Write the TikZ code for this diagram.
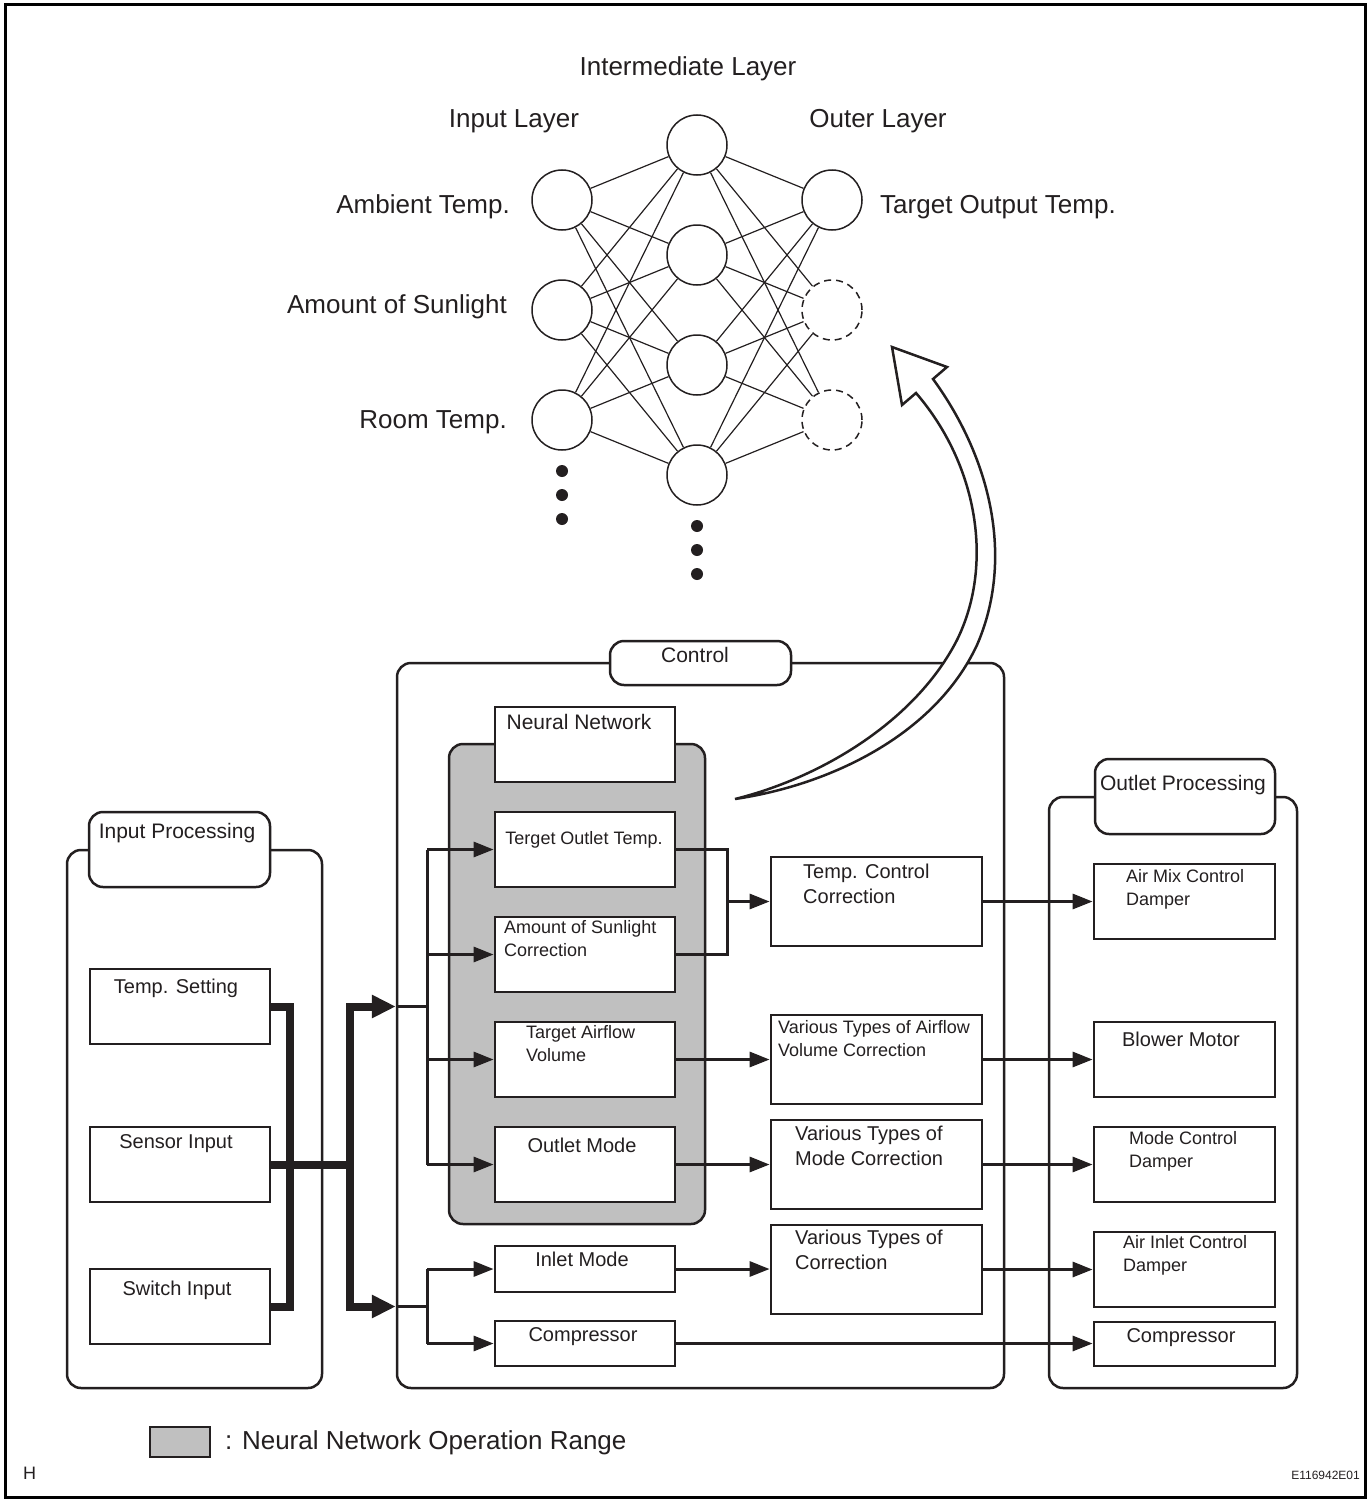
\documentclass[tikz,border=0pt]{standalone}
\usepackage{fontspec}
\setmainfont{Liberation Sans}
\usetikzlibrary{arrows.meta,calc}
\definecolor{ink}{RGB}{35,31,32}
\definecolor{nngray}{RGB}{192,192,192}
\newcommand{\fsA}{\fontsize{26}{31}\selectfont}
\newcommand{\fsB}{\fontsize{21}{25}\selectfont}
\newcommand{\fsC}{\fontsize{20}{25}\selectfont}
\newcommand{\fsD}{\fontsize{18}{23}\selectfont}
\newcommand{\fsE}{\fontsize{12}{14}\selectfont}
\begin{document}
\begin{tikzpicture}[x=1pt,y=-1pt,
  neuron/.style={circle,draw=ink,line width=1.5pt,fill=white,minimum size=60pt,inner sep=0pt},
  ghost/.style={neuron,dash pattern=on 7pt off 5pt},
  syn/.style={draw=ink,line width=1.2pt},
  dotmark/.style={circle,fill=ink,inner sep=0pt,minimum size=12pt},
  container/.style={draw=ink,line width=2.5pt,rounded corners=14pt,inner sep=0pt},
  tag/.style={draw=ink,line width=2.5pt,rounded corners=14pt,fill=white,inner sep=0pt},
  box/.style={draw=ink,line width=2.8pt,fill=white,inner sep=0pt},
  txt/.style={inner sep=0pt,text=ink},
  conn/.style={draw=ink,line width=3pt,line join=miter},
  bus/.style={draw=ink,line width=8pt,line join=miter},
  arrowtip/.style={-{Triangle[length=20pt,width=15pt]}},
  bustip/.style={-{Triangle[length=24pt,width=22pt]}}
]
\useasboundingbox (0,0) rectangle (1370,1501);
\draw[draw=black,line width=3pt] (5,5) rectangle (1365,1497);

% ---------- neural network diagram ----------
\node[neuron] (i1) at (562,200) {};
\node[neuron] (i2) at (562,310) {};
\node[neuron] (i3) at (562,420) {};
\node[neuron] (h1) at (697,145) {};
\node[neuron] (h2) at (697,255) {};
\node[neuron] (h3) at (697,365) {};
\node[neuron] (h4) at (697,475) {};
\node[neuron] (o1) at (832,200) {};
\node[ghost]  (o2) at (832,310) {};
\node[ghost]  (o3) at (832,420) {};
\foreach \a in {i1,i2,i3}{\foreach \b in {h1,h2,h3,h4}{\draw[syn] (\a) -- (\b);}}
\foreach \a in {h1,h2,h3,h4}{\foreach \b in {o1,o2,o3}{\draw[syn] (\a) -- (\b);}}
\node[dotmark] (di1) at (562,471) {};
\node[dotmark] (di2) at (562,495) {};
\node[dotmark] (di3) at (562,519) {};
\node[dotmark] (dh1) at (697,526) {};
\node[dotmark] (dh2) at (697,550) {};
\node[dotmark] (dh3) at (697,574) {};

\node[txt,font=\fsA,anchor=base] (tInter) at (688,75.4) {Intermediate Layer};
\node[txt,font=\fsA,anchor=base] (tInL) at (514,127.4) {Input Layer};
\node[txt,font=\fsA,anchor=base] (tOutL) at (878,127.4) {Outer Layer};
\node[txt,font=\fsA,anchor=base east] (tAmb) at (510,213.4) {Ambient Temp.};
\node[txt,font=\fsA,anchor=base east] (tSun) at (507,313.4) {Amount of Sunlight};
\node[txt,font=\fsA,anchor=base east] (tRoom) at (507,428.4) {Room Temp.};
\node[txt,font=\fsA,anchor=base west] (tTgt) at (880,213.4) {Target Output Temp.};

% ---------- input processing ----------
\node[container,minimum width=255pt,minimum height=538pt] (inC) at (194.5,1119) {};
\node[tag,minimum width=181pt,minimum height=75pt] (inT) at (179.5,849.5) {};
\node[txt,font=\fsB,anchor=base] (inTt) at (177,838.5) {Input Processing};
\node[box,minimum width=180pt,minimum height=75pt] (ts) at (180,1006.5) {};
\node[box,minimum width=180pt,minimum height=75pt] (si) at (180,1164.5) {};
\node[box,minimum width=180pt,minimum height=75pt] (sw) at (180,1306.5) {};
\node[txt,font=\fsC,anchor=base] (tsT) at (176,993) {Temp. Setting};
\node[txt,font=\fsC,anchor=base] (siT) at (176,1148) {Sensor Input};
\node[txt,font=\fsC,anchor=base] (swT) at (177,1295) {Switch Input};

% ---------- control ----------
\node[container,minimum width=607pt,minimum height=725pt] (ctl) at (700.5,1025.5) {};
\node[tag,minimum width=181pt,minimum height=44pt] (ctlT) at (700.5,663) {};
\node[txt,font=\fsB,anchor=base] (ctlTt) at (695,662.5) {Control};
\node[container,fill=nngray,minimum width=256pt,minimum height=480pt] (nnR) at (577,984) {};
\node[box,minimum width=180pt,minimum height=75pt] (nnL) at (585,744.5) {};
\node[txt,font=\fsB,anchor=base] (nnLt) at (579,729.5) {Neural Network};

\node[box,minimum width=180pt,minimum height=75pt] (to) at (585,849.5) {};
\node[box,minimum width=180pt,minimum height=75pt] (sc) at (585,954.5) {};
\node[box,minimum width=180pt,minimum height=75pt] (ta) at (585,1059.5) {};
\node[box,minimum width=180pt,minimum height=75pt] (om) at (585,1164.5) {};
\node[box,minimum width=180pt,minimum height=46pt] (im) at (585,1269) {};
\node[box,minimum width=180pt,minimum height=45pt] (cp) at (585,1343.5) {};
\node[txt,font=\fsD,anchor=base] (toT) at (584,844.5) {Terget Outlet Temp.};
\node[txt,font=\fsD,anchor=north west,align=left] (scT) at (504,920.5) {Amount of Sunlight\\Correction};
\node[txt,font=\fsD,anchor=north west,align=left] (taT) at (526,1025.5) {Target Airflow\\Volume};
\node[txt,font=\fsC,anchor=base] (omT) at (582,1152) {Outlet Mode};
\node[txt,font=\fsC,anchor=base] (imT) at (582,1266) {Inlet Mode};
\node[txt,font=\fsC,anchor=base] (cpT) at (583,1341) {Compressor};

\node[box,minimum width=211pt,minimum height=89pt] (tcc) at (876.5,901.5) {};
\node[box,minimum width=211pt,minimum height=89pt] (vav) at (876.5,1059.5) {};
\node[box,minimum width=211pt,minimum height=89pt] (vmc) at (876.5,1164.5) {};
\node[box,minimum width=211pt,minimum height=89pt] (vc) at (876.5,1269.5) {};
\node[txt,font=\fsC,anchor=north west,align=left] (tccT) at (803,864) {Temp. Control\\Correction};
\node[txt,font=\fsD,anchor=north west,align=left] (vavT) at (778,1020.5) {Various Types of Airflow\\Volume Correction};
\node[txt,font=\fsC,anchor=north west,align=left] (vmcT) at (795,1126) {Various Types of\\Mode Correction};
\node[txt,font=\fsC,anchor=north west,align=left] (vcT) at (795,1230) {Various Types of\\Correction};

% ---------- outlet processing ----------
\node[container,minimum width=248pt,minimum height=591pt] (outC) at (1173,1092.5) {};
\node[tag,minimum width=180pt,minimum height=75pt] (outT) at (1185,796.5) {};
\node[txt,font=\fsB,anchor=base] (outTt) at (1183,790.5) {Outlet Processing};
\node[box,minimum width=181pt,minimum height=75pt] (amd) at (1184.5,901.5) {};
\node[box,minimum width=181pt,minimum height=75pt] (bm) at (1184.5,1059.5) {};
\node[box,minimum width=181pt,minimum height=75pt] (mcd) at (1184.5,1164.5) {};
\node[box,minimum width=181pt,minimum height=75pt] (aid) at (1184.5,1269.5) {};
\node[box,minimum width=181pt,minimum height=44pt] (cpo) at (1184.5,1344) {};
\node[txt,font=\fsD,anchor=north west,align=left] (amdT) at (1126,869.5) {Air Mix Control\\Damper};
\node[txt,font=\fsC,anchor=base] (bmT) at (1181,1046) {Blower Motor};
\node[txt,font=\fsD,anchor=north west,align=left] (mcdT) at (1129,1131.5) {Mode Control\\Damper};
\node[txt,font=\fsD,anchor=north west,align=left] (aidT) at (1123,1235.5) {Air Inlet Control\\Damper};
\node[txt,font=\fsC,anchor=base] (cpoT) at (1181,1342) {Compressor};

% ---------- big hollow arrow ----------
\coordinate (curveTail) at (735,799);
\coordinate (curveTip) at (892,347);
\draw[draw=ink,line width=2.5pt,fill=white,line join=miter]
  (curveTail) .. controls (820,778) and (915,722) .. (957,640)
  .. controls (994,565) and (978,465) .. (916,393)
  -- (902,405) -- (curveTip) -- (947,367) -- (933,379)
  .. controls (992,460) and (1014,560) .. (977,645)
  .. controls (935,735) and (830,785) .. (curveTail) -- cycle;

% ---------- connectors ----------
\coordinate (busL) at (290,0);
\coordinate (busR) at (350,0);
\coordinate (dL) at (427,0);
\coordinate (rB) at (727,0);
\draw[bus] (ts.east) -| (busL |- sw.east) -- (sw.east);
\draw[bus] (si.east) -- (busR |- si.east);
\draw[bus,{Triangle[length=24pt,width=22pt]}-{Triangle[length=24pt,width=22pt]}]
  (ctl.west |- ts.east) -| (busR |- sw.east) -- (ctl.west |- sw.east);

\draw[conn] (ctl.west |- ts.east) -- (dL |- ts.east);
\draw[conn] (dL |- to.west) -- (dL |- om.west);
\foreach \b in {to,sc,ta,om}{\draw[conn,arrowtip] (dL |- \b.west) -- (\b.west);}
\draw[conn] (ctl.west |- sw.east) -- (dL |- sw.east);
\draw[conn] (dL |- im.west) -- (dL |- cp.west);
\foreach \b in {im,cp}{\draw[conn,arrowtip] (dL |- \b.west) -- (\b.west);}

\draw[conn] (to.east) -| (rB |- sc.east) -- (sc.east);
\draw[conn,arrowtip] (rB |- tcc.west) -- (tcc.west);
\draw[conn,arrowtip] (ta.east) -- (vav.west);
\draw[conn,arrowtip] (om.east) -- (vmc.west);
\draw[conn,arrowtip] (im.east) -- (vc.west |- im.east);

\draw[conn,arrowtip] (tcc.east) -- (amd.west);
\draw[conn,arrowtip] (vav.east) -- (bm.west);
\draw[conn,arrowtip] (vmc.east) -- (mcd.west);
\draw[conn,arrowtip] (vc.east) -- (aid.west);
\draw[conn,arrowtip] (cp.east) -- (cpo.west |- cp.east);

% ---------- legend ----------
\node[draw=ink,line width=2.5pt,fill=nngray,minimum width=60pt,minimum height=30pt,inner sep=0pt] (leg) at (180,1442) {};
\node[txt,font=\fsA,anchor=base west] (legT) at (225,1449.4) {: Neural Network Operation Range};
\node[txt,font=\fsD,anchor=base west] (hT) at (23,1479.5) {H};
\node[txt,font=\fsE,anchor=base east] (idT) at (1360,1479.5) {E116942E01};
\end{tikzpicture}
\end{document}
